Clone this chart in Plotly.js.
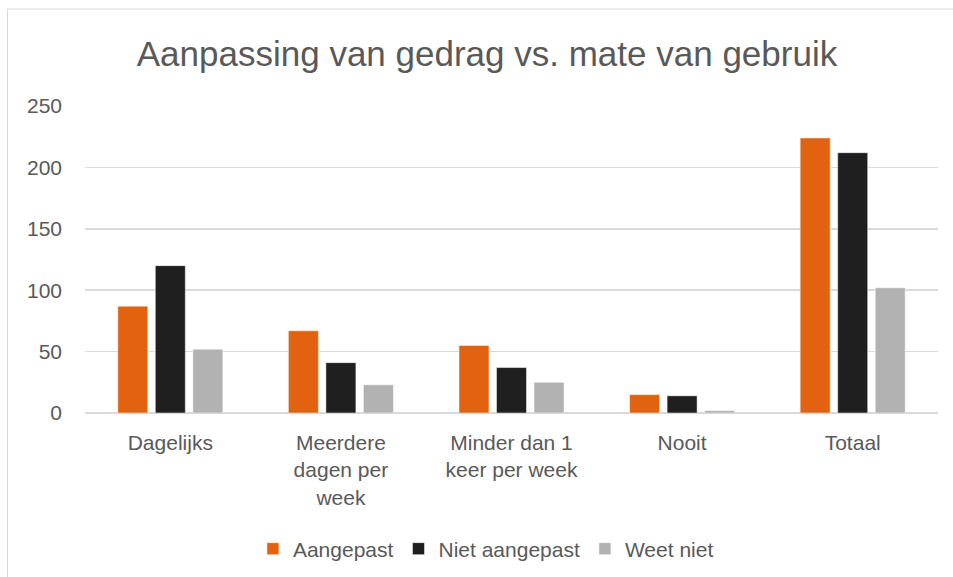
<!DOCTYPE html>
<html>
<head>
<meta charset="utf-8">
<script src="https://cdn.plot.ly/plotly-3.0.1.min.js"></script>
<style>html,body{margin:0;padding:0;background:#fff;}#chart{width:953px;height:577px;}</style>
</head>
<body>
<div id="chart"></div>
<script>
const categories = ["Dagelijks", "Meerdere<br>dagen per<br>week", "Minder dan 1<br>keer per week", "Nooit", "Totaal"];
const seriesNames = ["Aangepast", "Niet aangepast", "Weet niet"];
const aangepast = [87, 67, 55, 15, 224];
const nietAangepast = [120, 41, 37, 14, 212];
const weetNiet = [52, 23, 25, 2, 102];
const colors = ["#E36210", "#1F1F1F", "#B2B2B2"];
const tickVals = [0, 50, 100, 150, 200, 250];

const font = {family: "Liberation Sans, Arial, sans-serif", color: "#595959"};
const data = [aangepast, nietAangepast, weetNiet].map((v, i) => ({
  type: "bar",
  x: categories,
  y: v,
  name: seriesNames[i],
  marker: {color: colors[i], line: {color: "#ffffff", width: 0.5}},
  hoverinfo: "x+y+name"
}));

const L = 85, R = 938, T = 105.7, B = 413.3;
const pw = R - L, ph = B - T;
const layout = {
  width: 953, height: 577,
  margin: {l: L, r: 953 - R, t: T, b: 577 - B, pad: 0, autoexpand: false},
  paper_bgcolor: "#ffffff", plot_bgcolor: "#ffffff",
  font: Object.assign({size: 21}, font),
  title: {text: "Aanpassing van gedrag vs. mate van gebruik", font: Object.assign({}, font, {size: 35}), x: 0.511, xanchor: "center", y: 0.907, yanchor: "middle"},
  barmode: "group",
  bargap: 0.34,
  bargroupgap: 0.2,
  xaxis: {
    tickfont: Object.assign({}, font, {size: 21}),
    showgrid: false, showline: false, ticks: "", zeroline: false,
    ticklabelstandoff: 15,
    automargin: false
  },
  yaxis: {
    range: [0, 250], tickvals: tickVals, ticktext: tickVals.map(String),
    tickfont: Object.assign({}, font, {size: 21}),
    gridcolor: "#d9d9d9", gridwidth: 1.5,
    zeroline: true, zerolinecolor: "#d9d9d9", zerolinewidth: 1.5,
    showline: false, ticks: "", ticklen: 0, ticklabelstandoff: 22, automargin: false
  },
  showlegend: true,
  legend: {orientation: "h", x: 0.47, xanchor: "center", yref: "container", y: 1 - 549 / 577, yanchor: "middle",
    font: Object.assign({}, font, {size: 21}), itemwidth: 30, traceorder: "normal"},
  shapes: [{
    type: "rect", xref: "paper", yref: "paper",
    x0: (7.5 - L) / pw, x1: (970 - L) / pw,
    y0: (B - 600) / ph, y1: (B - 8.5) / ph,
    line: {color: "#d9d9d9", width: 1}, fillcolor: "rgba(0,0,0,0)", layer: "below"
  }]
};
Plotly.newPlot("chart", data, layout, {displayModeBar: false, staticPlot: true});
</script>
</body>
</html>
